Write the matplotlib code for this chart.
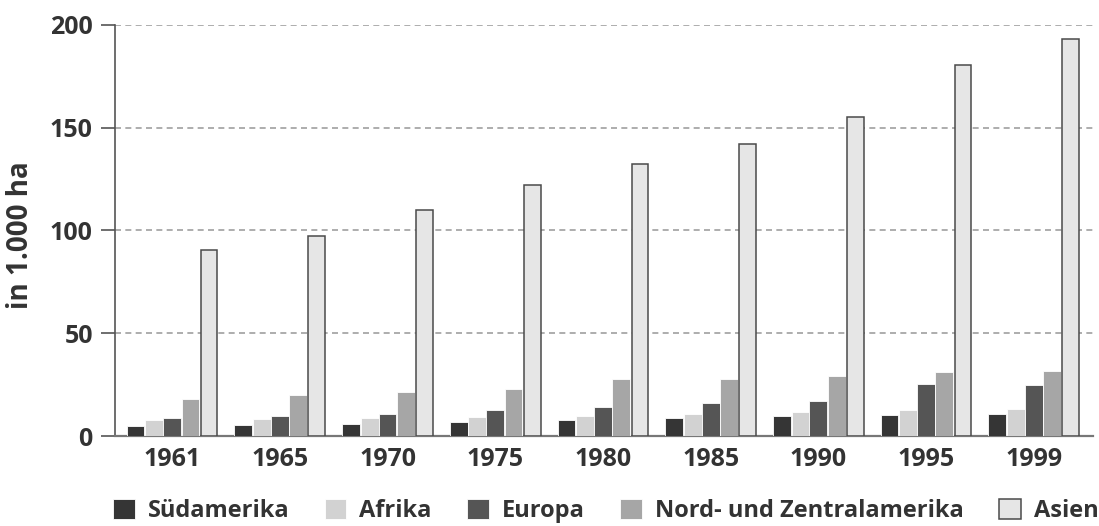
import numpy as np
import matplotlib
matplotlib.use("Agg")
import matplotlib.pyplot as plt

plt.rcParams["font.family"] = ["Open Sans", "DejaVu Sans"]

# Werte in 1.000 ha
jahre = ["1961", "1965", "1970", "1975", "1980", "1985", "1990", "1995", "1999"]
suedamerika = [4.9, 5.5, 6.0, 6.7, 7.6, 8.8, 9.6, 10.4, 10.6]
afrika = [7.6, 8.1, 8.6, 9.1, 9.6, 10.7, 11.5, 12.7, 13.0]
europa = [8.6, 9.6, 10.6, 12.5, 14.2, 15.9, 17.2, 25.5, 24.7]
nord_zentral = [18.2, 20.0, 21.3, 23.0, 27.8, 27.6, 29.0, 31.0, 31.8]
asien = [90.4, 97.2, 109.8, 121.9, 132.4, 142.0, 155.1, 180.5, 193.1]

regionen = ["Südamerika", "Afrika", "Europa", "Nord- und Zentralamerika", "Asien"]
farben = ["#353535", "#d2d2d2", "#555555", "#a6a6a6", "#e6e6e6"]
TXT = "#333333"

W, H = 1099, 526
fig = plt.figure(figsize=(W / 100, H / 100), dpi=100)
ax = fig.add_axes([115 / W, (H - 436) / H, (1093 - 115) / W, (436 - 25) / H])

x = np.arange(len(jahre))
serien = [suedamerika, afrika, europa, nord_zentral, asien]
breite = 0.165
versatz = [-0.339, -0.166, 0.0, 0.170, 0.343]
handles = []
for i, (werte, farbe) in enumerate(zip(serien, farben)):
    if i == 4:
        b = ax.bar(x + versatz[i], werte, 0.155, color=farbe, edgecolor="#4a4a4a",
                   linewidth=1.1, zorder=3)
    else:
        b = ax.bar(x + versatz[i], werte, breite, color=farbe, edgecolor="white",
                   linewidth=0.6, zorder=3)
    handles.append(b)

ax.set_xlim(-0.53, 8.55)
ax.set_ylim(0, 200)
ax.set_yticks([0, 50, 100, 150, 200])
ax.set_xticks(x)
ax.set_xticklabels(jahre)

ax.yaxis.grid(True, color="#a0a0a0", linewidth=1.2, linestyle=(0, (3.6, 2.6)), zorder=0)
ax.set_axisbelow(True)

for s in ["top", "right"]:
    ax.spines[s].set_visible(False)
ax.spines["left"].set_color("#555555")
ax.spines["left"].set_linewidth(1.2)
ax.spines["bottom"].set_color("#777777")
ax.spines["bottom"].set_linewidth(1.6)

ax.tick_params(axis="y", length=10, width=1.2, color="#555555", pad=6,
               labelsize=18, labelcolor=TXT)
ax.tick_params(axis="x", length=0, pad=8, labelsize=18, labelcolor=TXT)
for lab in ax.get_xticklabels() + ax.get_yticklabels():
    lab.set_fontweight("bold")

fig.text(21 / W, 1 - 235 / H, "in 1.000 ha", rotation=90, ha="center", va="center",
         fontsize=20, color=TXT, fontweight="bold")

leg = fig.legend(handles, regionen, ncol=5, loc="center left",
                 bbox_to_anchor=(113 / W, 1 - 511 / H), frameon=False,
                 fontsize=17, handlelength=0.92, handleheight=0.92,
                 handletextpad=0.55, columnspacing=1.5, borderpad=0,
                 borderaxespad=0)
for t in leg.get_texts():
    t.set_color(TXT)
    t.set_fontweight("bold")

fig.savefig("out.png", dpi=100)
